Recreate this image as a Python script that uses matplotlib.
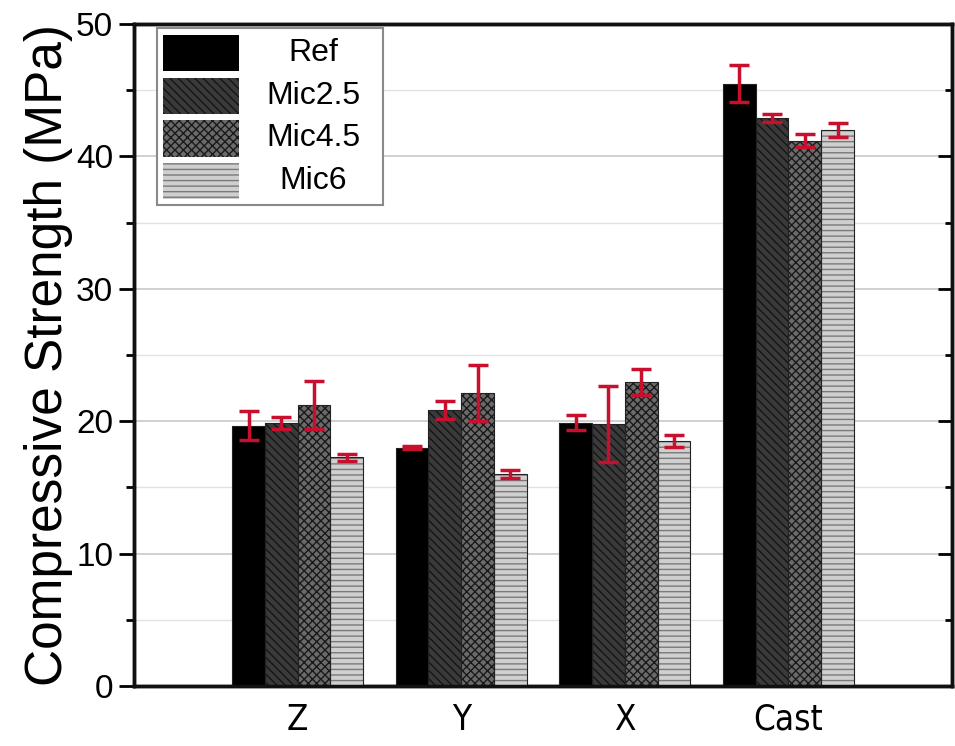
import matplotlib
matplotlib.use("Agg")
import matplotlib.pyplot as plt
import numpy as np
from matplotlib.ticker import MultipleLocator
from matplotlib.patches import Rectangle

plt.rcParams['font.family'] = ['Liberation Sans', 'DejaVu Sans']
plt.rcParams['hatch.linewidth'] = 1.0

categories = ["Z", "Y", "X", "Cast"]
series = ["Ref", "Mic2.5", "Mic4.5", "Mic6"]
ref = [19.65, 18.0, 19.9, 45.5]
mic25 = [19.9, 20.85, 19.8, 42.9]
mic45 = [21.25, 22.15, 22.95, 41.2]
mic6 = [17.27, 16.0, 18.5, 42.0]
ref_err = [1.1, 0.1, 0.6, 1.4]
mic25_err = [0.45, 0.7, 2.85, 0.3]
mic45_err = [1.8, 2.1, 1.0, 0.5]
mic6_err = [0.25, 0.3, 0.45, 0.5]

values = [ref, mic25, mic45, mic6]
errors = [ref_err, mic25_err, mic45_err, mic6_err]
facecolors = ["#000000", "#3a3a3a", "#6a6a6a", "#cfcfcf"]
hatches = [None, "\\\\\\\\", "xxxx", "---"]
hatchcolors = ["#000000", "#151515", "#1a1a1a", "#7a7a7a"]

fig = plt.figure(figsize=(9.55, 7.46), dpi=100)
ax = fig.add_axes([0.1403, 0.0804, 0.8566, 0.8874])

x = np.arange(1, len(categories) + 1)
w = 0.2
offsets = [-1.5, -0.5, 0.5, 1.5]
for i, name in enumerate(series):
    ax.bar(x + offsets[i] * w, values[i], width=w, color=facecolors[i],
           edgecolor=hatchcolors[i], hatch=hatches[i], linewidth=0.0,
           label=name, zorder=3)
    ax.bar(x + offsets[i] * w, values[i], width=w, color='none',
           edgecolor='#222222', linewidth=0.8, zorder=3.5)
    ax.errorbar(x + offsets[i] * w, values[i], yerr=errors[i], fmt='none',
                ecolor='#c8102e', elinewidth=2.5, capsize=7.5, capthick=2.5,
                zorder=4)

ax.set_xlim(0, 5)
ax.set_ylim(0, 50)
ax.set_xticks(x)
ax.set_xticklabels(categories, fontsize=25, fontstretch='condensed',
                   family=['DejaVu Sans'])
ax.yaxis.set_major_locator(MultipleLocator(10))
ax.yaxis.set_minor_locator(MultipleLocator(5))
ax.tick_params(axis='x', length=0, pad=12)
ax.tick_params(axis='y', which='major', direction='out', length=11, width=2,
               labelsize=24, right=False, pad=4)
ax.tick_params(axis='y', which='minor', direction='out', length=6, width=2)

ax.grid(axis='y', which='major', color='#c8c8c8', linewidth=1.2, zorder=0)
ax.grid(axis='y', which='minor', color='#e2e2e2', linewidth=1.0, zorder=0)
ax.set_axisbelow(True)

axr = ax.twinx()
axr.set_ylim(0, 50)
axr.yaxis.set_major_locator(MultipleLocator(10))
axr.yaxis.set_minor_locator(MultipleLocator(5))
axr.tick_params(axis='y', which='major', direction='in', length=10, width=2,
                labelright=False)
axr.tick_params(axis='y', which='minor', direction='in', length=5, width=2)

for a in (ax, axr):
    for s in a.spines.values():
        s.set_linewidth(2.5)
        s.set_color('#111111')

ax.set_ylabel("Compressive Strength (MPa)", fontsize=37, labelpad=2)

# legend drawn manually (handles + centered labels)
axr.add_patch(Rectangle((0.0281, 0.7266), 0.2763, 0.2674, transform=axr.transAxes,
                        facecolor='white', edgecolor='#8a8a8a', linewidth=1.5,
                        zorder=5))
row_top = 0.9834
row_pitch = 0.0643
row_h = 0.0551
for i, name in enumerate(series):
    top = row_top - i * row_pitch
    axr.add_patch(Rectangle((0.0358, top - row_h), 0.0929, row_h,
                            transform=axr.transAxes, facecolor=facecolors[i],
                            edgecolor=hatchcolors[i], hatch=hatches[i],
                            linewidth=0.0, zorder=6))
    axr.text(0.2188, top - row_h / 2, name, transform=axr.transAxes,
             ha='center', va='center', fontsize=23, zorder=7)

fig.savefig("out.png", dpi=100)
